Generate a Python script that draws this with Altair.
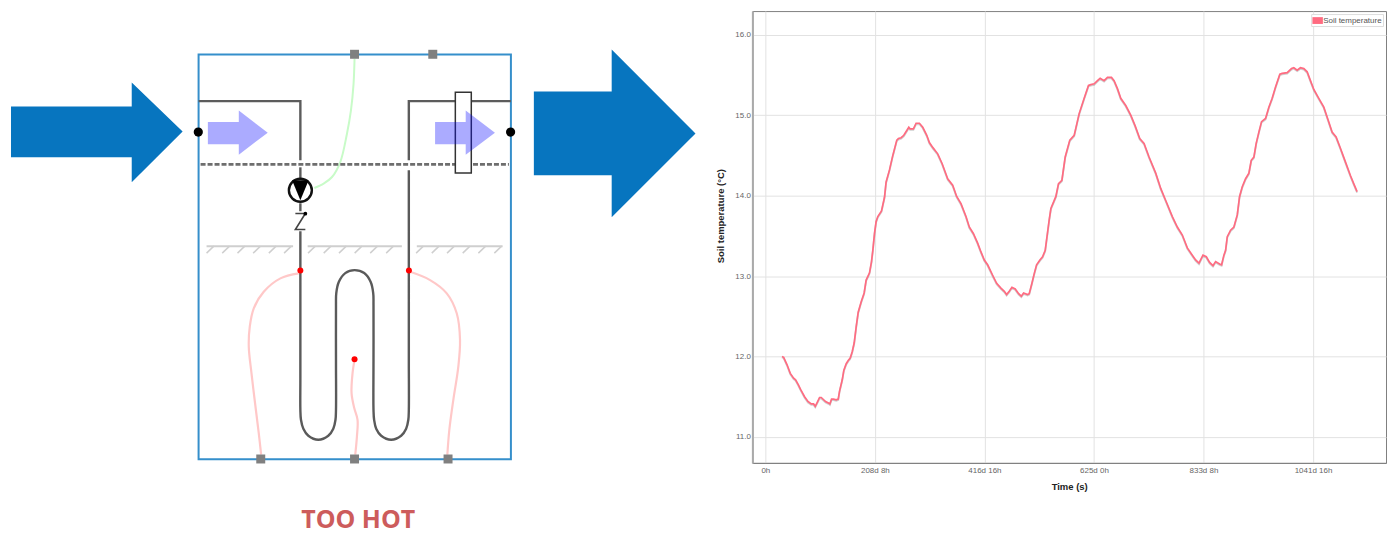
import altair as alt
import pandas as pd

# ---------- soil temperature series (days, deg C) ----------
days = [31.6,34.8,41.1,47.4,53.7,57.5,62.6,67.0,74.6,81.0,87.3,91.7,94.9,98.7,103.1,106.3,114.5,120.8,122.7,125.9,129.7,134.8,138.6,141.1,146.2,149.3,153.8,157.6,161.4,165.2,169.0,172.8,176.6,182.3,187.9,191.7,198.1,201.9,204.4,
207.6,210.7,213.9,220.9,226.6,229.7,236.1,242.4,250.0,253.1,258.2,263.3,269.0,272.8,275.3,281.6,286.7,293.0,299.4,307.0,312.0,318.3,327.8,336.1,346.8,356.3,363.9,372.1,381.6,387.9,395.6,403.8,
410.1,416.5,422.8,432.3,439.9,448.1,454.5,458.9,463.9,469.0,475.3,481.7,486.8,491.2,498.8,501.9,507.0,511.4,515.9,522.2,527.3,532.3,
539.9,543.1,552.6,557.6,564.0,570.3,579.1,587.4,596.9,606.4,614.6,619.0,625.4,631.7,636.8,644.3,650.7,658.3,663.3,669.7,676.0,685.5,695.0,703.2,712.1,720.3,729.8,742.5,752.0,761.5,774.1,783.6,793.1,802.6,
812.1,818.4,824.8,832.4,838.7,845.0,851.4,856.4,864.0,867.8,872.2,875.4,
878.6,884.9,891.2,897.6,902.0,907.1,913.4,919.7,924.2,929.2,933.6,938.7,943.8,951.4,957.7,964.0,970.4,978.6,983.0,992.5,1000.8,1005.2,1011.5,1017.8,1024.2,1030.5,1036.8,1043.2,1052.7,1062.2,1070.4,1078.0,1085.6,1093.8,1103.3,1112.8,1119.1,1125.5]
temps = [12.00,11.99,11.90,11.79,11.73,11.71,11.65,11.59,11.50,11.44,11.41,11.41,11.38,11.43,11.49,11.49,11.44,11.42,11.41,11.47,11.47,11.46,11.47,11.57,11.71,11.83,11.91,11.95,11.98,12.06,12.17,12.37,12.55,12.68,12.79,12.95,13.04,13.18,13.32,
13.53,13.68,13.74,13.81,13.98,14.17,14.32,14.50,14.69,14.71,14.72,14.75,14.81,14.85,14.83,14.83,14.90,14.90,14.85,14.75,14.66,14.60,14.52,14.40,14.21,14.13,13.99,13.90,13.74,13.61,13.53,13.41,
13.30,13.20,13.14,13.01,12.91,12.85,12.81,12.77,12.81,12.86,12.84,12.78,12.75,12.79,12.77,12.78,12.91,13.03,13.14,13.20,13.24,13.32,
13.70,13.84,13.99,14.15,14.19,14.48,14.69,14.75,15.02,15.21,15.37,15.38,15.39,15.43,15.46,15.43,15.47,15.47,15.43,15.33,15.21,15.12,15.00,14.87,14.71,14.65,14.48,14.28,14.09,13.94,13.74,13.61,13.51,13.35,
13.26,13.20,13.16,13.26,13.24,13.17,13.13,13.18,13.15,13.14,13.26,13.32,
13.49,13.57,13.61,13.76,13.99,14.11,14.21,14.28,14.44,14.48,14.65,14.79,14.92,14.96,15.10,15.21,15.35,15.51,15.52,15.53,15.58,15.59,15.56,15.59,15.58,15.54,15.43,15.32,15.21,15.10,14.94,14.79,14.73,14.59,14.42,14.25,14.15,14.05]
tick_days = [0, 208.3333, 416.6667, 625, 833.3333, 1041.6667]
tick_temps = [11, 12, 13, 14, 15, 16]

# ---------- schematic, read in the picture's own units ----------
big_arrows = [
    [(10,106),(131,106),(131,82),(182,131),(131,182),(131,157),(10,157),(10,106)],
    [(534,91),(612,91),(612,49),(696,133),(612,217),(612,175),(534,175),(534,91)],
]
flow_arrows = [
    [(207.3,121.7),(238.3,121.7),(238.3,110),(267.3,132.3),(238.3,154.3),(238.3,144),(207.3,144),(207.3,121.7)],
    [(435,121.7),(465.7,121.7),(465.7,110),(495,132.3),(465.7,154.3),(465.7,144),(435,144),(435,121.7)],
]
pump_triangle = [[(291.7,180),(308.3,180),(300,200),(291.7,180)]]
frame_box = [(198,511,54,459.5)]
valve_box = [(455.3,471.3,91.7,172.7)]
pipes = [
    [(198,100.7),(300,100.7),(300,160)],
    [(300,167),(300,178)],
    [(300,203),(300,211)],
    [(511,100.7),(408.7,100.7),(408.7,160)],
]
coil = [[(300,231),(300,300),(300,380),(300,410),(300.6,420),(303,429),(308,436),(318,440),(328,436),(333,429),(335.2,420),(335.7,410),(335.7,360),(335.7,305),(336,293),(338.5,282),(345,273),(354.3,270),(364,273),(370.5,282),(373,293),(373.3,305),(373.3,360),(373.3,410),(373.9,420),(376,429),(381,436),(391,440),(401,436),(406,429),(408.2,420),(408.7,410),(408.7,360),(408.7,300),(408.7,230),(408.7,170)]]
green_wire = [[(354.3,58.3),(353.3,83.3),(350.7,110),(346.7,133.3),(340,161.7),(331.7,176.7),(323.3,183.3),(314,187.7)]]
pink_wires = [
    [(298.3,273.3),(280,278.3),(263.3,291.7),(253.3,308.3),(249.3,326.7),(248.3,346.7),(251,373.3),(255,406.7),(258.3,433.3),(260.7,455)],
    [(410,271.7),(430,280),(446.7,293.3),(456.7,313.3),(460,340),(458.3,366.7),(453.3,400),(449.3,430),(447.3,455)],
    [(354.3,360),(352.3,373.3),(351.3,393.3),(354,408.3),(357.3,420),(356.7,436.7),(355,455)],
]
dashed_line = [[(200,164),(509,164)]]
z_mark = [[(295,213.3),(305,213.3),(295,229.3),(305,229.3)]]
ground = [
    [(206,246),(292.7,246)],
    [(307.3,246),(401.7,246)],
    [(416.7,246),(502.7,246)],
]
hatch_tops = [213.3,229,244.3,260,275.7,291,315,330.7,346,361.7,377.3,393.3,423.3,439,454.3,470,485.7,501.7]
hatch_run = 7.3
hatch = [[(x,246),(x-hatch_run,253)] for x in hatch_tops]
ports = [(354.3,53.7),(432.7,53.7),(260.3,459.3),(354.3,459.3),(448,459.3)]
connectors = [(197.7,131.7),(510.7,131.7)]
sensors = [(300,270.3),(408.8,270.3),(354.3,359.3)]
pump_circle = [(300,190)]
z_dot = [(305,213.5)]
caption = [(358,520,"TOO HOT")]

X0, Y0, W, H = 7, 10.4, 701, 521
xs = alt.Scale(domain=[X0, X0 + W], nice=False, zero=False)
ys = alt.Scale(domain=[Y0, Y0 + H], nice=False, zero=False, reverse=True)
X = lambda f: alt.X(f, type="quantitative", scale=xs, axis=None)
Y = lambda f: alt.Y(f, type="quantitative", scale=ys, axis=None, stack=None)


def paths(groups, color, width, interpolate="linear", dash=None, opacity=1):
    df = pd.DataFrame([dict(g=g, i=i, x=p[0], y=p[1])
                       for g, path in enumerate(groups) for i, p in enumerate(path)])
    kw = dict(color=color, strokeWidth=width, interpolate=interpolate, opacity=opacity)
    if dash:
        kw["strokeDash"] = dash
    return alt.Chart(df).mark_line(**kw).encode(
        x=X("x"), y=Y("y"), detail="g:N", order="i:Q")


def polygons(groups, color, opacity=1):
    df = pd.DataFrame([dict(g=g, i=i, x=p[0], y=p[1])
                       for g, poly in enumerate(groups) for i, p in enumerate(poly)])
    return alt.Chart(df).mark_line(fill=color, fillOpacity=opacity, stroke=color, strokeOpacity=0, strokeWidth=0).encode(
        x=X("x"), y=Y("y"), detail="g:N", order="i:Q")


def boxes(items, fill, fill_op, stroke, width):
    df = pd.DataFrame(items, columns=["x", "x2", "y", "y2"])
    return alt.Chart(df).mark_rect(fill=fill, fillOpacity=fill_op, stroke=stroke, strokeWidth=width).encode(
        x=X("x"), x2="x2:Q", y=Y("y"), y2="y2:Q")


def dots(items, shape, size, fill, stroke=None, width=0):
    df = pd.DataFrame(items, columns=["x", "y"])
    kw = dict(shape=shape, size=size, filled=True, fill=fill, fillOpacity=1, strokeWidth=width, opacity=1)
    if stroke:
        kw["stroke"] = stroke
    return alt.Chart(df).mark_point(**kw).encode(x=X("x"), y=Y("y"))


cap_df = pd.DataFrame(caption, columns=["x", "y", "t"])
diagram = alt.layer(
    polygons(big_arrows, "#0775bf"),
    boxes(frame_box, "#ffffff", 0, "#358fcb", 2),
    paths(ground, "#cfcfcf", 2),
    paths(hatch, "#cfcfcf", 1.5),
    paths(pipes, "#5c5c5c", 2.4),
    paths(coil, "#5a5a5a", 2.4, "catmull-rom"),
    paths(green_wire, "#c8fbc8", 2, "catmull-rom"),
    paths(pink_wires, "#ffc8c8", 2.2, "catmull-rom"),
    paths(dashed_line, "#6e6e6e", 2.6, dash=[5, 2]),
    boxes(valve_box, "#ffffff", 1, "#333333", 1.5),
    polygons(flow_arrows, "#0000ff", 0.33),
    dots(pump_circle, "circle", 530, "#ffffff", "#111111", 2.4),
    polygons(pump_triangle, "#000000"),
    paths(z_mark, "#444444", 1.6),
    dots(z_dot, "circle", 14, "#000000"),
    dots(ports, "square", 81, "#808080"),
    dots(connectors, "circle", 85, "#000000"),
    dots(sensors, "circle", 36, "#ff0000"),
    alt.Chart(cap_df).mark_text(font="Open Sans", fontWeight="bold", fontSize=25, color="#cd5c5c").encode(
        x=X("x"), y=Y("y"), text="t:N"),
).properties(width=W, height=H, view=alt.ViewConfig(stroke=None))

series_df = pd.DataFrame({"days": days, "temp": temps, "series": "Soil temperature"})
x_time = alt.Scale(domain=[-24.7, 1180.5], nice=False, zero=False)
y_temp = alt.Scale(domain=[10.677, 16.295], nice=False, zero=False)
label_expr = ("datum.value == 0 ? '0h' : floor(datum.value + 0.001) + 'd ' + "
              "round((datum.value - floor(datum.value + 0.001)) * 24) + 'h'")

shadow = alt.Chart(series_df).mark_line(color="#777777", opacity=0.35, strokeWidth=1.8, yOffset=1).encode(
    x=alt.X("days:Q", scale=x_time), y=alt.Y("temp:Q", scale=y_temp))
line = alt.Chart(series_df).mark_line(strokeWidth=1.7).encode(
    x=alt.X("days:Q", scale=x_time, title="Time (s)",
            axis=alt.Axis(values=tick_days, labelExpr=label_expr, ticks=False, grid=True,
                          gridColor="#e2e2e2", domainColor="#808080", domainWidth=1,
                          labelFont="Liberation Sans", labelFontSize=8, labelColor="#666666", labelPadding=4,
                          titleFont="Liberation Sans", titleFontSize=9.5, titleFontWeight="bold",
                          titleColor="#222222", titlePadding=7)),
    y=alt.Y("temp:Q", scale=y_temp, title="Soil temperature (°C)",
            axis=alt.Axis(values=tick_temps, format=".1f", ticks=False, grid=True,
                          gridColor="#e2e2e2", domainColor="#aaaaaa", domainWidth=2,
                          labelFont="Liberation Sans", labelFontSize=8, labelColor="#666666", labelPadding=2,
                          titleFont="Liberation Sans", titleFontSize=9.5, titleFontWeight="bold",
                          titleColor="#222222", titleX=-27, titleY=205, minExtent=44, maxExtent=44)),
    color=alt.Color("series:N", title=None,
                    scale=alt.Scale(domain=["Soil temperature"], range=["#ff6b81"]),
                    legend=alt.Legend(orient="top-right", offset=3, padding=1, strokeColor="#dddddd",
                                      fillColor="#ffffff", labelFont="Liberation Sans", labelFontSize=8,
                                      labelColor="#555555", labelOffset=0,
                                      symbolType="M-1,-0.65H1V0.65H-1Z", symbolSize=110,
                                      symbolFillColor="#ff6b81", symbolStrokeWidth=0)),
)
plot = alt.layer(shadow, line).properties(
    width=635, height=452.8, view=alt.ViewConfig(stroke="#808080", strokeWidth=1))

chart = alt.hconcat(diagram, plot, spacing=0).resolve_legend(color="independent").properties(
    padding={"left": 0, "top": 1.5, "right": 0, "bottom": 0})

chart.save("out.html", embed_options={"renderer": "svg", "actions": False})
